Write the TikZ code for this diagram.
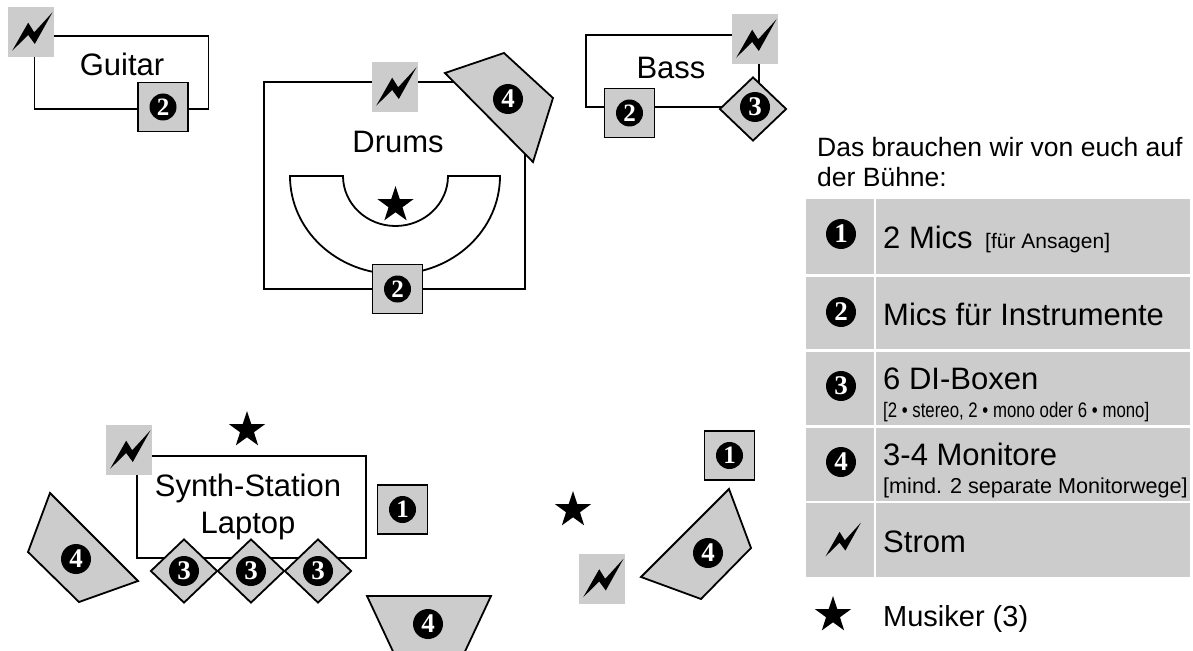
\documentclass[tikz,border=0pt]{standalone}
\usepackage{fontspec}
\setmainfont{Liberation Sans}
\newfontfamily\digitfont{Liberation Serif}
\usepackage{xcolor}
\usepackage{tikz}
\usetikzlibrary{shapes,positioning}
\definecolor{stagegrey}{HTML}{CCCCCC}
\newcommand{\fs}[1]{\fontsize{#1}{#1}\selectfont}
\tikzstyle{zone} = [rectangle, draw, line width=1.8pt, inner sep=0pt]
\tikzstyle{label} = [inner sep=0pt, font=\fs{31}, anchor=base]
\tikzstyle{note} = [inner sep=0pt, font=\fs{31}, anchor=base west]
\tikzstyle{small} = [inner sep=0pt, font=\fs{21}, anchor=base west]
\tikzstyle{micbox} = [rectangle, draw, line width=1.8pt, fill=stagegrey, minimum width=50pt, minimum height=49pt, inner sep=0pt]
\tikzstyle{dibox} = [diamond, draw, line width=1.8pt, fill=stagegrey, aspect=1, minimum width=67pt, minimum height=64pt, inner sep=0pt]
\tikzstyle{power} = [rectangle, fill=stagegrey, minimum width=46pt, minimum height=50pt, inner sep=0pt]
\tikzstyle{monitor} = [draw, line width=1.8pt, fill=stagegrey, line join=miter]
\tikzstyle{numdot} = [circle, fill=black, text=white, minimum size=30pt, inner sep=0pt, font=\digitfont\bfseries\fs{27}]
\tikzstyle{numsmall} = [numdot, minimum size=27pt, font=\digitfont\bfseries\fs{25}]
\tikzstyle{musician} = [star, star points=5, star point ratio=2.6, fill=black, minimum size=38pt, inner sep=0pt]
\tikzstyle{legendnum} = [rectangle, fill=stagegrey, minimum width=68pt, inner sep=0pt]
\tikzstyle{legendtext} = [rectangle, fill=stagegrey, minimum width=314pt, inner sep=0pt]
\tikzset{bolt/.pic={\fill (-18.8,18.7) -- (-2.8,-9.3) -- (3.2,0.3) -- (21.5,-19.7) -- (3.8,12) -- (-2.8,3) -- cycle;}}
\begin{document}
\begin{tikzpicture}[x=1pt, y=-1pt]
\useasboundingbox (0,0) rectangle (1193,650);

% Guitar
\node [zone, minimum width=174pt, minimum height=73pt] (guitar) at (121.5,72.5) {};
\node [label] (guitarlabel) at (122,76) {Guitar};
\node [power] (guitarpower) at (31,32) {};
\pic at (guitarpower) {bolt};
\node [micbox] (guitarmic) at (163,107) {};
\node [numsmall] (guitarnum) at (guitarmic) {2};

% Drums
\node [zone, minimum width=261pt, minimum height=207pt] (drums) at (394.5,185.5) {};
\draw [line width=1.8pt] (290,176) arc [start angle=180, end angle=360, x radius=105pt, y radius=98pt]
  -- (448,176) arc [start angle=360, end angle=180, x radius=52.5pt, y radius=50pt] -- cycle;
\node [label] (drumslabel) at (398,152) {Drums};
\node [musician] (drummer) at (395.5,205) {};
\node [power] (drumspower) at (395,87) {};
\pic at (drumspower) {bolt};
\node [micbox] (drumsmic) at (397.5,289) {};
\node [numsmall] (drumsnum) at (drumsmic) {2};
\draw [monitor] (445,73) -- (504,53) -- (553,98) -- (533,162) -- cycle;
\node [numdot] (drumsmon) at (508,99) {4};

% Bass
\node [zone, minimum width=173pt, minimum height=72pt] (bass) at (672.5,71) {};
\node [label] (basslabel) at (671,79) {Bass};
\node [power] (basspower) at (755,39) {};
\pic at (basspower) {bolt};
\node [micbox] (bassmic) at (629.5,113) {};
\node [numsmall] (bassnum) at (bassmic) {2};
\node [dibox] (bassdi) at (753,109) {};
\node [numdot] (bassdinum) at (755,107) {3};

% Synth-Station
\node [zone, minimum width=229pt, minimum height=102pt] (synth) at (251.5,507) {};
\node [label] (synthlabel) at (248,496) {Synth-Station};
\node [label] (laptoplabel) at (248,533) {Laptop};
\node [power] (synthpower) at (129,450) {};
\pic at (synthpower) {bolt};
\node [musician] (synthplayer) at (247,430) {};
\node [micbox] (synthmic) at (402.5,509.5) {};
\node [numsmall] (synthnum) at (synthmic) {1};
\node [dibox] (dione) at (184,571) {};
\node [dibox, right of=dione, node distance=67pt] (ditwo) {};
\node [dibox, right of=ditwo, node distance=67pt] (dithree) {};
\node [numdot] (dionenum) at (dione) {3};
\node [numdot] (ditwonum) at (ditwo) {3};
\node [numdot] (dithreenum) at (dithree) {3};
\draw [monitor] (50,493) -- (28,552) -- (79,602) -- (138,581) -- cycle;
\node [numdot] (leftmon) at (76,559) {4};
\draw [monitor] (367,596) -- (491,596) -- (461,660) -- (397,660) -- cycle;
\node [numdot] (frontmon) at (428,624) {4};

% Gesang
\node [micbox] (vocalmic) at (729.5,455.5) {};
\node [numsmall] (vocalnum) at (vocalmic) {1};
\node [musician] (singer) at (573,510) {};
\node [power] (vocalpower) at (602,578.5) {};
\pic at (vocalpower) {bolt};
\draw [monitor] (729,489) -- (751,548) -- (701,599) -- (641,577) -- cycle;
\node [numdot] (rightmon) at (708,553) {4};

% Legende
\node [note, font=\fs{26.5}] (introone) at (817,157) {Das brauchen wir von euch auf};
\node [note, font=\fs{26.5}] (introtwo) at (817,186) {der Bühne:};

\node [legendnum, minimum height=75pt] (cellone) at (840,236.5) {};
\node [legendtext, minimum height=75pt] (textone) at (1033,236.5) {};
\node [legendnum, minimum height=72pt] (celltwo) at (840,313) {};
\node [legendtext, minimum height=72pt] (texttwo) at (1033,313) {};
\node [legendnum, minimum height=73pt] (cellthree) at (840,388.5) {};
\node [legendtext, minimum height=73pt] (textthree) at (1033,388.5) {};
\node [legendnum, minimum height=73pt] (cellfour) at (840,464.5) {};
\node [legendtext, minimum height=73pt] (textfour) at (1033,464.5) {};
\node [legendnum, minimum height=74pt] (cellfive) at (840,540) {};
\node [legendtext, minimum height=74pt] (textfive) at (1033,540) {};

\node [numdot] (numone) at (841,234) {1};
\node [numdot] (numtwo) at (841,312) {2};
\node [numdot] (numthree) at (841,386) {3};
\node [numdot] (numfour) at (841,462) {4};
\pic [scale=0.88] at (842,540) {bolt};
\node [musician] (legendstar) at (833,615) {};

\node [note] (micsone) at (883,248) {2 Mics};
\node [small] (micsnote) at (985,248) {[für Ansagen]};
\node [note] (micstwo) at (883,325) {Mics für Instrumente};
\node [note] (dibox) at (883,389) {6 DI-Boxen};
\node [small] (dinote) at (883,417) {\scalebox{.8}[1]{[2 • stereo, 2 • mono oder 6 • mono]}};
\node [note] (monitors) at (883,465) {3-4 Monitore};
\node [small, font=\fs{21.6}] (monnote) at (883,493) {[mind. 2 separate Monitorwege]};
\node [note] (strom) at (883,552) {Strom};
\node [note, font=\fs{29}] (musiker) at (883,626) {Musiker (3)};
\end{tikzpicture}
\end{document}
